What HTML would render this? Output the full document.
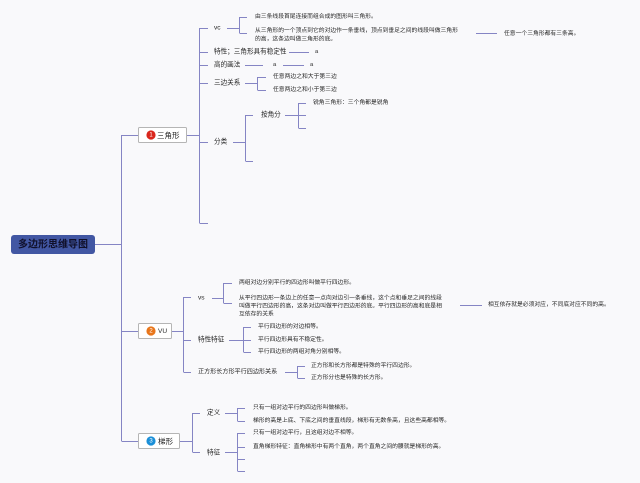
<!DOCTYPE html>
<html><head><meta charset="utf-8"><style>
html,body{margin:0;padding:0;background:#f9f9fb;}
svg{display:block;}
text{font-family:"Liberation Sans","Noto Sans CJK SC",sans-serif;fill:#262626;dominant-baseline:central;}
.l{font-size:5.8px;}
.m{font-size:6.6px;}
</style></head><body>
<svg width="640" height="483" viewBox="0 0 640 483" xmlns="http://www.w3.org/2000/svg">
<rect width="640" height="483" fill="#f9f9fb"/>
<g stroke="#8585c4" stroke-width="1" fill="none">
<!-- root -->
<path d="M95 244.5H121.5"/>
<path d="M121.5 135V441"/>
<path d="M121.5 135.5H138M121.5 331.5H138M121.5 441.5H138"/>
<!-- branch 1 -->
<path d="M186 135.5H199.5"/>
<path d="M199.5 28V223"/>
<path d="M199.5 28.5H208M199.5 52.5H208M199.5 65.5H208M199.5 83.5H208M199.5 142.5H208M199.5 223.5H208"/>
<path d="M227 28.5H239.5M239.5 17V33M239.5 17.5H247M239.5 33.5H247"/>
<path d="M476 33.5H497"/>
<path d="M289 52.5H309"/>
<path d="M245 65.5H263M283 65.5H304"/>
<path d="M245 83.5H257.5M257.5 77V90M257.5 77.5H266M257.5 90.5H266"/>
<path d="M233 142.5H245.5M245.5 115V161M245.5 115.5H253M245.5 161.5H253"/>
<path d="M285 115.5H298.5M298.5 103V128M298.5 103.5H306M298.5 115.5H306M298.5 128.5H306"/>
<!-- branch 2 -->
<path d="M171 331.5H183.5"/>
<path d="M183.5 297V372"/>
<path d="M183.5 297.5H191M183.5 340.5H191M183.5 372.5H191"/>
<path d="M212 298.5H223.5M223.5 283V303M223.5 283.5H232M223.5 303.5H232"/>
<path d="M460 305.5H482"/>
<path d="M229 340.5H243.5M243.5 327V352M243.5 327.5H251M243.5 340.5H251M243.5 352.5H251"/>
<path d="M285 372.5H297.5M297.5 366V378M297.5 366.5H305M297.5 378.5H305"/>
<!-- branch 3 -->
<path d="M179 441.5H192.5"/>
<path d="M192.5 413V452"/>
<path d="M192.5 413.5H200M192.5 452.5H200"/>
<path d="M225 413.5H237.5M237.5 408V421M237.5 408.5H245M237.5 421.5H245"/>
<path d="M225 452.5H237.5M237.5 433V471M237.5 433.5H245M237.5 447.5H245M237.5 459.5H245M237.5 471.5H245"/>
</g>

<!-- root node -->
<rect x="11" y="235" width="84" height="19" rx="3" fill="#4257a3"/>
<text x="53" y="245" text-anchor="middle" style="font-size:10px;font-weight:bold;fill:#10102a">多边形思维导图</text>

<!-- branch boxes -->
<rect x="138.5" y="127.5" width="48" height="15" rx="1" fill="#fff" stroke="#b5b5b5"/>
<circle cx="151" cy="135" r="4.6" fill="#d9261c"/>
<text x="151" y="135.3" text-anchor="middle" style="font-size:6px;fill:#fff">1</text>
<text x="157" y="135.5" style="font-size:7.5px">三角形</text>

<rect x="138.5" y="323.5" width="33" height="15" rx="1" fill="#fff" stroke="#b5b5b5"/>
<circle cx="151" cy="331" r="4.6" fill="#e8751a"/>
<text x="151" y="331.3" text-anchor="middle" style="font-size:6px;fill:#fff">2</text>
<text x="158" y="331.5" style="font-size:6.5px">VU</text>

<rect x="138.5" y="433.5" width="41" height="15" rx="1" fill="#fff" stroke="#b5b5b5"/>
<circle cx="151" cy="441" r="4.6" fill="#1a8fd8"/>
<text x="151" y="441.3" text-anchor="middle" style="font-size:6px;fill:#fff">3</text>
<text x="158" y="441.5" style="font-size:7.5px">梯形</text>

<!-- branch 1 labels -->
<text class="m" x="214" y="28">vc</text>
<text class="l" x="255" y="17">由三条线段首尾连接而组合成的图形叫三角形。</text>
<text class="l" x="255" y="31">从三角形的一个顶点到它的对边作一条垂线，顶点到垂足之间的线段叫做三角形</text>
<text class="l" x="255" y="39.5">的高，这条边叫做三角形的底。</text>
<text class="l" x="504" y="34">任意一个三角形都有三条高。</text>
<text class="m" x="214" y="52">特性；三角形具有稳定性</text>
<text class="l" x="315" y="52">a</text>
<text class="m" x="214" y="65">高的画法</text>
<text class="l" x="273" y="65">a</text>
<text class="l" x="310" y="65">a</text>
<text class="m" x="214" y="83">三边关系</text>
<text class="l" x="273" y="77">任意两边之和大于第三边</text>
<text class="l" x="273" y="90">任意两边之和小于第三边</text>
<text class="m" x="214" y="142">分类</text>
<text class="m" x="261" y="115">按角分</text>
<text class="l" x="313" y="103">锐角三角形：三个角都是锐角</text>

<!-- branch 2 labels -->
<text class="m" x="198" y="298">vs</text>
<text class="l" x="239" y="283">两组对边分别平行的四边形叫做平行四边形。</text>
<text class="l" x="239" y="298.5">从平行四边形一条边上的任意一点向对边引一条垂线，这个点和垂足之间的线段</text>
<text class="l" x="239" y="306.5">叫做平行四边形的高，这条对边叫做平行四边形的底。平行四边形的高和底是相</text>
<text class="l" x="239" y="314.5">互依存的关系</text>
<text class="l" x="488" y="305">相互依存就是必须对应，不同底对应不同的高。</text>
<text class="m" x="198" y="340">特性特征</text>
<text class="l" x="258" y="327">平行四边形的对边相等。</text>
<text class="l" x="258" y="340">平行四边形具有不稳定性。</text>
<text class="l" x="258" y="352">平行四边形的两组对角分别相等。</text>
<text x="198" y="372" style="font-size:6.1px">正方形长方形平行四边形关系</text>
<text class="l" x="311" y="366">正方形和长方形都是特殊的平行四边形。</text>
<text class="l" x="311" y="378">正方形分也是特殊的长方形。</text>

<!-- branch 3 labels -->
<text class="m" x="207" y="413">定义</text>
<text class="l" x="253" y="408">只有一组对边平行的四边形叫做梯形。</text>
<text class="l" x="253" y="421">梯形的高是上底、下底之间的垂直线段，梯形有无数条高，且这些高都相等。</text>
<text class="m" x="207" y="453">特征</text>
<text class="l" x="253" y="433">只有一组对边平行，且这组对边不相等。</text>
<text class="l" x="253" y="447">直角梯形特征：直角梯形中有两个直角，两个直角之间的腰就是梯形的高。</text>
</svg>
</body></html>
